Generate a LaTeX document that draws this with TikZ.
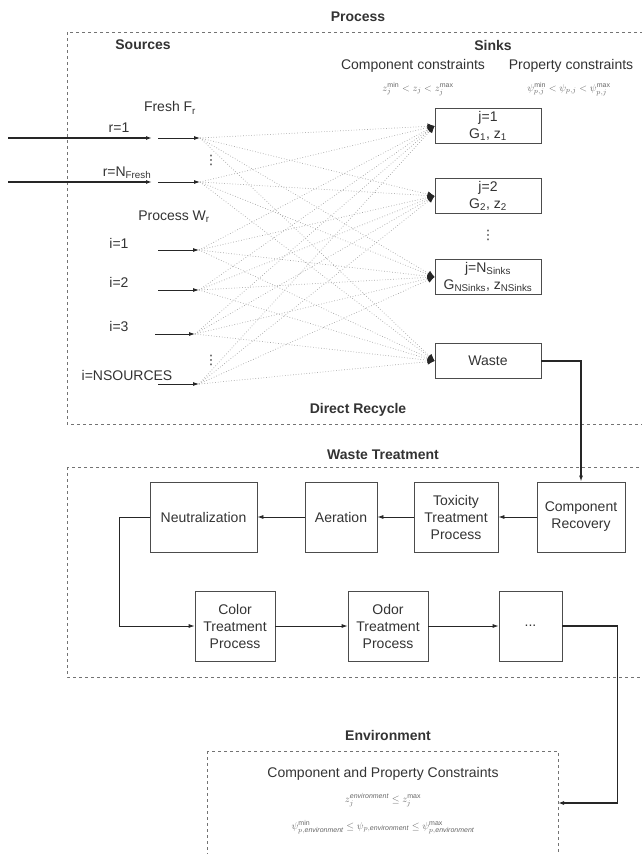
\documentclass[tikz,border=0pt]{standalone}
\usepackage{fontspec}
\setmainfont{Liberation Sans}
\newfontfamily\dotsfont{DejaVu Sans}
\usepackage{amsmath}
\usetikzlibrary{arrows.meta}

\begin{document}
\begin{tikzpicture}[x=1pt,y=-1pt,
    font=\fontsize{14}{17}\selectfont, text=black!80,
    heading/.style ={font=\fontsize{14}{17}\selectfont\bfseries},
    formula/.style ={font=\fontsize{10}{12}\selectfont, text=black!60, inner sep=1pt},
    dots/.style ={inner sep=0pt, font=\fontsize{13}{13}\selectfont\dotsfont},
    region/.style ={draw=black!55, dashed, line width=0.6pt},
    sink/.style ={rectangle, draw=black!70, line width=0.8pt, minimum width=106, minimum height=35, inner sep=0pt, align=center},
    treat/.style ={rectangle, draw=black!70, line width=0.8pt, minimum height=70, inner sep=0pt, align=center},
    feed/.style ={draw=black!85, line width=0.8pt, -{Latex[length=6pt,width=4pt]}},
    link/.style ={draw=black!35, dotted, line width=0.7pt, -{Latex[length=7pt,width=6pt,color=black!85]}}]
   \useasboundingbox (0,0) rectangle (642,854);
   % dashed regions
   \draw[region] (67,32) rectangle (650,424);
   \draw[region] (67,467) rectangle (650,677);
   \draw[region] (207,751) rectangle (558,860);
   % direct recycle
   \node[heading] (process) at (358,17) {Process};
   \node[heading] (sources) at (143,45) {Sources};
   \node[heading] (sinks) at (493,45) {Sinks};
   \node (comp) at (413,66) {Component constraints};
   \node (prop) at (571,66) {Property constraints};
   \node[formula] (compf) at (418,89) {$z_j^{\mathrm{min}} < z_j < z_j^{\mathrm{max}}$};
   \node[formula] (propf) at (569,89) {$\psi_{p,j}^{\mathrm{min}} < \psi_{p,j} < \psi_{p,j}^{\mathrm{max}}$};
   \node (fresh) at (170,108) {Fresh F\textsubscript{r}};
   \node (r1) at (119,128) {r=1};
   \node[dots] (fdots) at (211,160) {⋮};
   \node (rn) at (127,173) {r=N\textsubscript{Fresh}};
   \node (wproc) at (174,217) {Process W\textsubscript{r}};
   \node (i1) at (119,243) {i=1};
   \node (i2) at (119,282) {i=2};
   \node (i3) at (119,326) {i=3};
   \node[dots] (idots) at (211,360) {⋮};
   \node (in) at (127,375) {i=NSOURCES};
   \node[heading] (direct) at (358,410) {Direct Recycle};
   \coordinate (f1in) at (8,138);
   \coordinate (f1mid) at (152,138);
   \coordinate (f1go) at (158,138);
   \coordinate (f1) at (200,138);
   \coordinate (fnin) at (8,182);
   \coordinate (fnmid) at (152,182);
   \coordinate (fngo) at (158,182);
   \coordinate (fn) at (200,182);
   \coordinate (w1go) at (158,250);
   \coordinate (w1) at (199,250);
   \coordinate (w2go) at (158,290);
   \coordinate (w2) at (199,290);
   \coordinate (w3go) at (155,334);
   \coordinate (w3) at (195,334);
   \coordinate (wngo) at (158,384);
   \coordinate (wn) at (199,384);
   \draw[feed, line width=1.2pt] (f1in) to (f1mid);
   \draw[feed] (f1go) to (f1);
   \draw[feed, line width=1.2pt] (fnin) to (fnmid);
   \draw[feed] (fngo) to (fn);
   \draw[feed] (w1go) to (w1);
   \draw[feed] (w2go) to (w2);
   \draw[feed] (w3go) to (w3);
   \draw[feed] (wngo) to (wn);
   \node[sink] (k1) at (488,126) {j=1\\G\textsubscript{1}, z\textsubscript{1}};
   \node[sink] (k2) at (488,196) {j=2\\G\textsubscript{2}, z\textsubscript{2}};
   \node[dots] (kdots) at (488,235) {⋮};
   \node[sink] (kn) at (488,277) {j=N\textsubscript{Sinks}\\G\textsubscript{NSinks}, z\textsubscript{NSinks}};
   \node[sink] (waste) at (488,361) {Waste};
   \draw[link] (f1) to (k1.west);
   \draw[link] (f1) to (k2.west);
   \draw[link] (f1) to (kn.west);
   \draw[link] (f1) to (waste.west);
   \draw[link] (fn) to (k1.west);
   \draw[link] (fn) to (k2.west);
   \draw[link] (fn) to (kn.west);
   \draw[link] (fn) to (waste.west);
   \draw[link] (w1) to (k1.west);
   \draw[link] (w1) to (k2.west);
   \draw[link] (w1) to (kn.west);
   \draw[link] (w1) to (waste.west);
   \draw[link] (w2) to (k1.west);
   \draw[link] (w2) to (k2.west);
   \draw[link] (w2) to (kn.west);
   \draw[link] (w2) to (waste.west);
   \draw[link] (w3) to (k1.west);
   \draw[link] (w3) to (k2.west);
   \draw[link] (w3) to (kn.west);
   \draw[link] (w3) to (waste.west);
   \draw[link] (wn) to (k1.west);
   \draw[link] (wn) to (k2.west);
   \draw[link] (wn) to (kn.west);
   \draw[link] (wn) to (waste.west);
   % waste treatment
   \node[heading] (wt) at (383,455) {Waste Treatment};
   \node[treat, minimum width=107] (neutral) at (203.5,517) {Neutralization};
   \node[treat, minimum width=72] (aeration) at (341,517) {Aeration};
   \node[treat, minimum width=84] (toxic) at (456,517) {Toxicity\\Treatment\\Process};
   \node[treat, minimum width=88] (recovery) at (581,517) {Component\\Recovery};
   \node[treat, minimum width=80] (color) at (235,626) {Color\\Treatment\\Process};
   \node[treat, minimum width=80] (odor) at (388,626) {Odor\\Treatment\\Process};
   \node[treat, minimum width=63] (etc) at (530.5,626) {...};
   \draw[feed, line width=1.2pt] (waste.east) -| (recovery.north);
   \draw[feed] (recovery) to (toxic);
   \draw[feed] (toxic) to (aeration);
   \draw[feed] (aeration) to (neutral);
   \draw[feed] (neutral.west) -- ++(-30,0) |- (color.west);
   \draw[feed] (color) to (odor);
   \draw[feed] (odor) to (etc);
   % environment
   \node[heading] (env) at (388,735) {Environment};
   \node (envc) at (383,774) {Component and Property Constraints};
   \node[formula] (envz) at (383,800) {$z_j^{\mathit{environment}} \le z_j^{\mathrm{max}}$};
   \node[formula] (envp) at (383,827) {$\psi_{p,\mathit{environment}}^{\mathrm{min}} \le \psi_{p,\mathit{environment}} \le \psi_{p,\mathit{environment}}^{\mathrm{max}}$};
   \coordinate (envin) at (558,803);
   \draw[feed, line width=1.2pt] (etc.east) -- ++(55,0) |- (envin);
\end{tikzpicture}
\end{document}
